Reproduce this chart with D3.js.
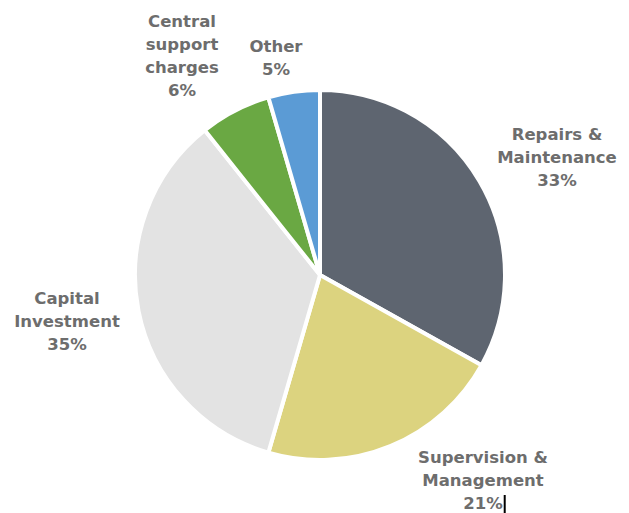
<!DOCTYPE html>
<html>
<head>
<meta charset="utf-8">
<script src="https://cdn.jsdelivr.net/npm/d3@7"></script>
<style>
  body { margin: 0; background: #fff; }
  svg { display: block; }
</style>
</head>
<body>
<svg id="chart"></svg>
<script>
    // Data (slice shares; labels as printed)
    const categories = ["Repairs & Maintenance", "Supervision & Management", "Capital Investment", "Central support charges", "Other"];
    const values = [33.1, 21.4, 34.8, 6.2, 4.5];
    const labelLines = [
        ["Repairs &", "Maintenance", "33%"],
        ["Supervision &", "Management", "21%"],
        ["Capital", "Investment", "35%"],
        ["Central", "support", "charges", "6%"],
        ["Other", "5%"]
    ];
    const colors = ["#5e6570", "#dcd37f", "#e3e3e3", "#6aa843", "#5b9bd5"];

    // Dimensions
    const dimensions = {
        width: 629,
        height: 513,
        cx: 320,
        cy: 275,
        radius: 185,
        lineHeight: 23,
    };

    // Label anchors (centre x, first baseline y)
    const labelPos = [
        [557, 140],
        [483, 463],
        [67, 304],
        [182, 27],
        [276, 52]
    ];

    const data = categories.map((c, i) => ({ name: c, value: values[i], lines: labelLines[i] }));

    const svg = d3.select("#chart")
        .attr("width", dimensions.width)
        .attr("height", dimensions.height);

    const pie = d3.pie().sort(null).value(d => d.value);
    const arc = d3.arc().innerRadius(0).outerRadius(dimensions.radius);

    const g = svg.append("g")
        .attr("transform", `translate(${dimensions.cx},${dimensions.cy})`);

    g.selectAll("path")
        .data(pie(data))
        .enter()
        .append("path")
        .attr("d", arc)
        .attr("fill", (d, i) => colors[i])
        .attr("stroke", "#fff")
        .attr("stroke-width", 4)
        .attr("stroke-linejoin", "round");

    // Labels
    const labels = svg.selectAll("text.label")
        .data(data)
        .enter()
        .append("text")
        .attr("class", "label")
        .attr("x", (d, i) => labelPos[i][0])
        .attr("y", (d, i) => labelPos[i][1])
        .attr("text-anchor", "middle")
        .attr("fill", "#6d6d6d")
        .style("font-family", "'DejaVu Sans', sans-serif")
        .style("font-weight", "bold")
        .style("font-size", "16.5px");

    labels.each(function (d, i) {
        const t = d3.select(this);
        d.lines.forEach((line, j) => {
            t.append("tspan")
                .attr("x", labelPos[i][0])
                .attr("y", labelPos[i][1] + j * dimensions.lineHeight)
                .text(line);
        });
    });

    // Text cursor after "21%"
    const lastSpan = labels.filter((d, i) => i === 1).selectAll("tspan").filter((d, j, n) => j === n.length - 1).node();
    const bb = lastSpan.getBBox();
    svg.append("line")
        .attr("x1", bb.x + bb.width + 1.5)
        .attr("x2", bb.x + bb.width + 1.5)
        .attr("y1", bb.y + 1)
        .attr("y2", bb.y + bb.height)
        .attr("stroke", "#000")
        .attr("stroke-width", 2);
</script>
</body>
</html>
